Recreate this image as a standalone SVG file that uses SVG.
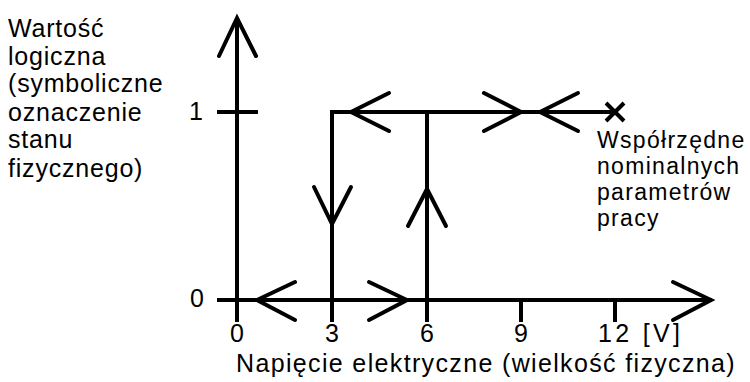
<svg xmlns="http://www.w3.org/2000/svg" width="750" height="382" viewBox="0 0 750 382">
  <style>
    .ln { stroke: #000; stroke-width: 4; fill: none; stroke-linecap: butt; stroke-linejoin: miter; }
    .hd { stroke: #000; stroke-width: 4; fill: none; stroke-linecap: round; stroke-linejoin: miter; }
    text { font-family: "Liberation Sans", Arial, sans-serif; font-size: 25px; fill: #000; }
    .lbl { letter-spacing: 0.8px; }
    .note { font-size: 23px; letter-spacing: 1.3px; }
    .title { letter-spacing: 1.35px; }
  </style>
  <rect width="750" height="382" fill="#fff"/>

  <!-- axes -->
  <g id="axes">
    <line class="ln" x1="237" y1="18" x2="237" y2="322"/>
    <polyline class="hd" points="219,56 237,18 256,56"/>
    <line class="ln" x1="217" y1="300" x2="712" y2="300"/>
    <polyline class="hd" points="673,282 711,300 673,320"/>
    <!-- level 1 tick -->
    <line class="ln" x1="217" y1="112" x2="258" y2="112"/>
    <!-- voltage ticks -->
    <line class="ln" x1="521" y1="300" x2="521" y2="322"/>
    <line class="ln" x1="615" y1="300" x2="615" y2="322"/>
  </g>

  <!-- transfer characteristic -->
  <g id="connectors">
    <line class="ln" x1="332" y1="112" x2="615" y2="112"/>
    <line class="ln" x1="332" y1="110" x2="332" y2="322"/>
    <line class="ln" x1="427" y1="112" x2="427" y2="322"/>
    <!-- arrows on level 1 -->
    <polyline class="hd" points="389,93 351,112 389,131"/>
    <polyline class="hd" points="484,93 521,112 484,131"/>
    <polyline class="hd" points="578,93 540,112 578,131"/>
    <!-- arrows on level 0 -->
    <polyline class="hd" points="295,282 257,300 295,320"/>
    <polyline class="hd" points="369,282 407,300 369,320"/>
    <!-- switching arrows -->
    <polyline class="hd" points="314,187 332,224 351,187"/>
    <polyline class="hd" points="408,226 427,189 446,226"/>
    <!-- nominal operating point -->
    <path class="ln" d="M606,103 L624,121 M624,103 L606,121"/>
  </g>

  <g id="y-label">
    <text class="lbl" x="8" y="37">Wartość</text>
    <text class="lbl" x="8" y="65">logiczna</text>
    <text class="lbl" x="8" y="92">(symboliczne</text>
    <text class="lbl" x="8" y="121">oznaczenie</text>
    <text class="lbl" x="8" y="148">stanu</text>
    <text class="lbl" x="8" y="177">fizycznego)</text>
  </g>

  <g id="y-ticks">
    <text x="189" y="120">1</text>
    <text x="190" y="307">0</text>
  </g>

  <g id="x-ticks">
    <text x="237" y="342" text-anchor="middle">0</text>
    <text x="332" y="342" text-anchor="middle">3</text>
    <text x="427" y="342" text-anchor="middle">6</text>
    <text x="521" y="342" text-anchor="middle">9</text>
    <text x="598" y="342" textLength="82" lengthAdjust="spacing">12 [V]</text>
  </g>

  <g id="x-label">
    <text class="title" x="236" y="372">Napięcie elektryczne (wielkość fizyczna)</text>
  </g>

  <g id="nominal-label">
    <text class="note" x="597" y="148">Współrzędne</text>
    <text class="note" x="597" y="174">nominalnych</text>
    <text class="note" x="597" y="200">parametrów</text>
    <text class="note" x="597" y="226">pracy</text>
  </g>
</svg>
